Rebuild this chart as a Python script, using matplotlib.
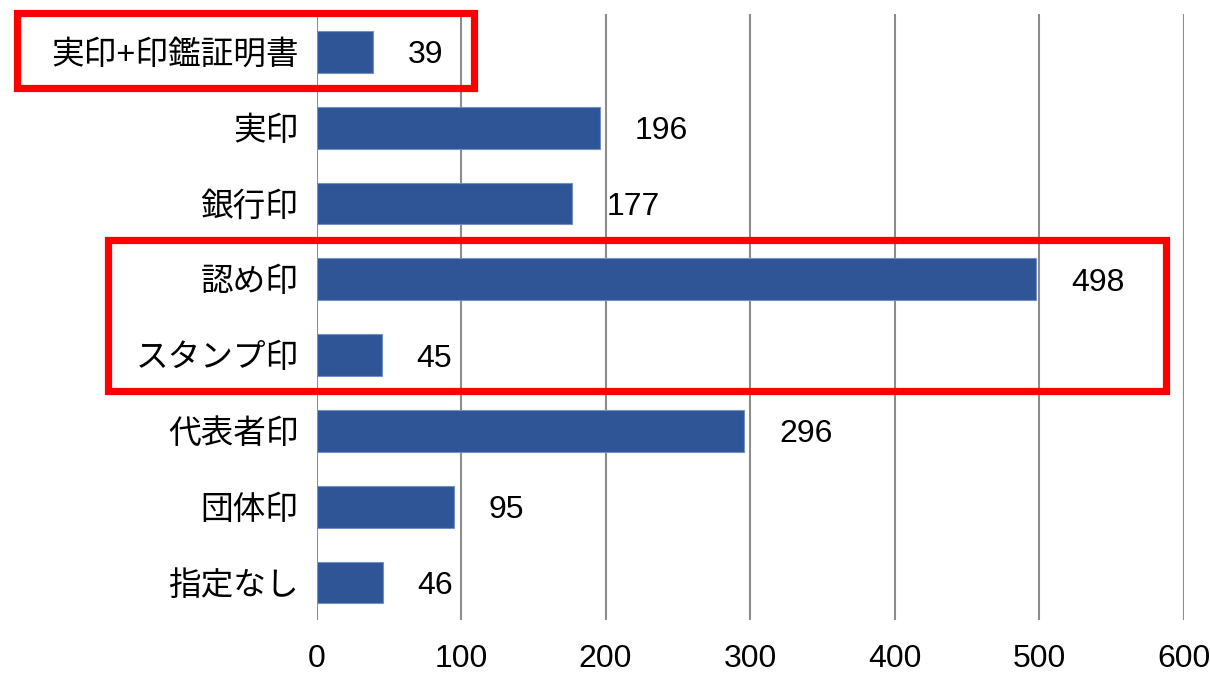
import matplotlib.pyplot as plt
from matplotlib.patches import Rectangle

plt.rcParams['font.family'] = ['Liberation Sans', 'Noto Sans CJK JP', 'DejaVu Sans']

# データ
categories = ['実印+印鑑証明書', '実印', '銀行印', '認め印', 'スタンプ印', '代表者印', '団体印', '指定なし']
values = [39, 196, 177, 498, 45, 296, 95, 46]
xticks = [0, 100, 200, 300, 400, 500, 600]

fig = plt.figure(figsize=(12.1, 6.74), dpi=100)
ax = fig.add_axes([0.2616, 0.0795, 0.7165, 0.8997])

ypos = list(range(len(categories)))
ax.barh(ypos, values, height=0.55, color='#2F5597', edgecolor='#7090C8', linewidth=0.8, zorder=3)

for y, v in zip(ypos, values):
    ax.text(v + 24, y, str(v), va='center_baseline', ha='left', fontsize=23, color='black')

ax.set_xlim(0, 600)
ax.set_ylim(len(categories) - 0.5, -0.5)
ax.set_xticks(xticks)
ax.set_yticks(ypos)
ax.set_yticklabels(categories, fontsize=23.5)
ax.tick_params(axis='x', length=0, pad=17, labelsize=23)
ax.tick_params(axis='y', length=0, pad=13)
ax.grid(axis='x', color='#8C8C8C', linewidth=1.5, zorder=0)
for s in ax.spines.values():
    s.set_visible(False)

# 強調の赤枠
ax.add_patch(Rectangle((-207.6, -0.51), 108.7 + 207.6, 0.99, fill=False,
                       edgecolor='#FF0000', linewidth=5.2, clip_on=False, zorder=5))
ax.add_patch(Rectangle((-144.0, 2.48), 588 + 144.0, 1.99, fill=False,
                       edgecolor='#FF0000', linewidth=5.2, clip_on=False, zorder=5))

fig.savefig('out.png', dpi=100)
